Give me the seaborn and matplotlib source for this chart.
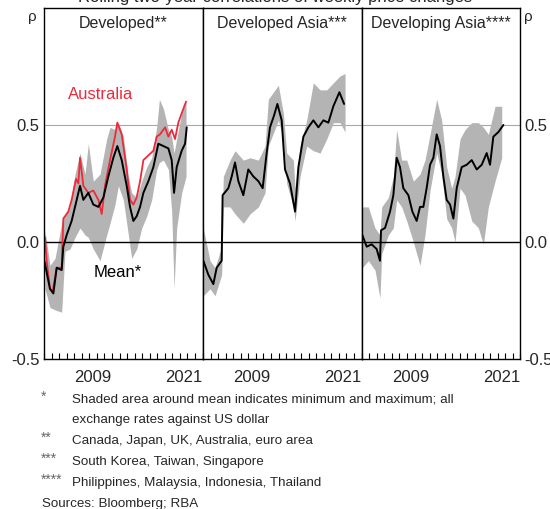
import numpy as np
import matplotlib
matplotlib.use("Agg")
import matplotlib.pyplot as plt
import seaborn as sns

sns.set_style("white")
plt.rcParams["font.family"] = ["Liberation Sans", "DejaVu Sans"]

# Developed (panel 1)
dev_mean_yr = [2003.04, 2003.79, 2004.24, 2004.68, 2005.34, 2005.56, 2006.0, 2006.66, 2007.33, 2007.77,
               2008.21, 2008.87, 2009.53, 2010.2, 2010.86, 2011.52, 2012.18, 2012.71, 2013.29, 2013.95,
               2014.39, 2014.83, 2015.27, 2015.72, 2016.16, 2016.82, 2017.48, 2018.14, 2018.81, 2019.47,
               2019.91, 2020.22, 2020.57, 2021.23, 2021.68, 2021.9]
dev_mean = [-0.08, -0.2, -0.22, -0.11, -0.12, -0.02, 0.03, 0.09, 0.18, 0.24,
            0.18, 0.21, 0.16, 0.15, 0.19, 0.28, 0.36, 0.41, 0.35, 0.24,
            0.15, 0.09, 0.11, 0.15, 0.21, 0.26, 0.32, 0.42, 0.41, 0.40,
            0.35, 0.21, 0.32, 0.39, 0.42, 0.49]

aus_yr = [2003.13, 2003.35, 2003.79, 2004.15, 2004.68, 2005.34, 2005.56, 2006.22, 2006.66, 2007.24,
          2007.55, 2007.77, 2008.21, 2008.87, 2009.53, 2010.2, 2010.64, 2011.08, 2011.74, 2012.4,
          2012.71, 2013.29, 2013.95, 2014.39, 2014.83, 2015.27, 2015.72, 2016.16, 2016.82, 2017.48,
          2017.92, 2018.36, 2019.03, 2019.47, 2019.91, 2020.35, 2020.79, 2021.23, 2021.81]
aus = [0.02, -0.08, -0.2, -0.21, -0.11, -0.11, 0.1, 0.13, 0.18, 0.27,
       0.25, 0.36, 0.24, 0.21, 0.22, 0.18, 0.12, 0.24, 0.35, 0.45,
       0.51, 0.46, 0.31, 0.18, 0.16, 0.19, 0.26, 0.35, 0.37, 0.39,
       0.45, 0.46, 0.49, 0.45, 0.48, 0.44, 0.51, 0.55, 0.6]

dev_band_yr = [2003.13, 2003.79, 2004.46, 2005.34, 2005.78, 2006.44, 2007.11, 2007.77, 2008.43, 2008.87,
               2009.53, 2010.42, 2011.3, 2011.74, 2012.4, 2012.85, 2013.51, 2014.17, 2014.61, 2015.27,
               2015.94, 2016.6, 2017.26, 2017.92, 2018.28, 2018.81, 2019.47, 2019.91, 2020.22, 2020.57,
               2021.23, 2021.81]
dev_lo = [-0.2, -0.28, -0.29, -0.3, -0.04, -0.03, 0.02, 0.06, 0.03, 0.02,
          -0.03, -0.08, 0.03, 0.08, 0.16, 0.24, 0.18, 0.03, -0.07, -0.03,
          0.06, 0.11, 0.18, 0.31, 0.34, 0.35, 0.31, 0.13, -0.2, 0.06,
          0.21, 0.28]
dev_hi = [0.05, -0.1, -0.07, 0.08, 0.12, 0.15, 0.29, 0.38, 0.29, 0.42,
          0.26, 0.29, 0.44, 0.49, 0.48, 0.51, 0.45, 0.28, 0.21, 0.19,
          0.26, 0.32, 0.36, 0.49, 0.61, 0.57, 0.48, 0.45, 0.38, 0.44,
          0.55, 0.6]

# Developed Asia (panel 2)
dva_mean_yr = [2003.04, 2003.71, 2004.37, 2004.81, 2005.47, 2005.6, 2006.36, 2006.8, 2007.24, 2007.68,
               2008.34, 2009.0, 2009.67, 2010.33, 2010.9, 2011.43, 2011.87, 2012.4, 2012.85, 2013.42,
               2013.86, 2014.52, 2015.19, 2015.63, 2016.29, 2016.95, 2017.61, 2018.28, 2018.94, 2019.6,
               2020.26, 2021.06, 2021.68]
dva_mean = [-0.08, -0.14, -0.18, -0.11, -0.08, 0.2, 0.23, 0.28, 0.34, 0.26,
            0.2, 0.31, 0.28, 0.26, 0.23, 0.38, 0.49, 0.54, 0.59, 0.52,
            0.31, 0.25, 0.13, 0.32, 0.45, 0.49, 0.52, 0.49, 0.52, 0.51,
            0.58, 0.64, 0.59]
dva_band_yr = [2003.04, 2003.93, 2004.59, 2005.47, 2005.69, 2006.58, 2007.24, 2008.34, 2009.23, 2010.33,
               2011.21, 2011.65, 2012.98, 2013.64, 2014.08, 2014.96, 2015.19, 2015.85, 2016.73, 2017.61,
               2018.5, 2019.38, 2020.26, 2021.15, 2021.81]
dva_lo = [-0.23, -0.2, -0.23, -0.14, 0.15, 0.15, 0.12, 0.08, 0.12, 0.15,
          0.21, 0.41, 0.52, 0.44, 0.25, 0.15, 0.09, 0.28, 0.41, 0.39,
          0.38, 0.44, 0.51, 0.51, 0.47]
dva_hi = [0.06, -0.08, -0.11, -0.02, 0.28, 0.35, 0.39, 0.35, 0.36, 0.35,
          0.41, 0.61, 0.67, 0.55, 0.38, 0.35, 0.23, 0.41, 0.52, 0.68,
          0.65, 0.65, 0.68, 0.71, 0.72]

# Developing Asia (panel 3)
dga_mean_yr = [2003.08, 2003.66, 2004.32, 2004.98, 2005.42, 2005.56, 2006.09, 2006.75, 2007.19, 2007.63,
               2008.07, 2008.51, 2009.18, 2009.71, 2010.28, 2010.72, 2011.16, 2011.6, 2012.05, 2012.49,
               2012.93, 2013.37, 2013.81, 2014.25, 2014.7, 2015.14, 2015.58, 2016.24, 2016.9, 2017.57,
               2018.23, 2018.89, 2019.55, 2019.99, 2020.43, 2021.1, 2021.76]
dga_mean = [0.03, -0.02, -0.01, -0.03, -0.08, 0.05, 0.06, 0.13, 0.2, 0.36,
            0.32, 0.23, 0.2, 0.13, 0.09, 0.15, 0.15, 0.23, 0.33, 0.36,
            0.46, 0.41, 0.28, 0.18, 0.16, 0.1, 0.23, 0.32, 0.33, 0.35,
            0.31, 0.33, 0.38, 0.33, 0.45, 0.47, 0.5]
dga_band_yr = [2003.08, 2003.88, 2004.76, 2005.42, 2005.65, 2006.53, 2007.19, 2007.63, 2008.29, 2008.96,
               2009.84, 2010.72, 2011.38, 2012.05, 2012.93, 2013.59, 2014.25, 2014.92, 2015.36, 2016.02,
               2016.68, 2017.57, 2018.45, 2019.11, 2019.77, 2020.66, 2021.54]
dga_lo = [-0.11, -0.08, -0.12, -0.24, -0.05, 0.03, 0.06, 0.18, 0.15, 0.09,
          0.0, -0.1, 0.03, 0.22, 0.38, 0.29, 0.1, 0.06, 0.0, 0.23,
          0.2, 0.09, 0.06, -0.01, 0.15, 0.26, 0.36]
dga_hi = [0.15, 0.15, 0.06, 0.03, 0.15, 0.19, 0.28, 0.48, 0.35, 0.35,
          0.26, 0.29, 0.35, 0.46, 0.61, 0.52, 0.32, 0.23, 0.28, 0.44,
          0.48, 0.51, 0.51, 0.49, 0.46, 0.58, 0.58]

titles = ["Developed**", "Developed Asia***", "Developing Asia****"]
label_years = [2009, 2021]

panels = [
    (dev_band_yr, dev_lo, dev_hi, dev_mean_yr, dev_mean),
    (dva_band_yr, dva_lo, dva_hi, dva_mean_yr, dva_mean),
    (dga_band_yr, dga_lo, dga_hi, dga_mean_yr, dga_mean),
]

W, H = 550, 509
fig = plt.figure(figsize=(5.5, 5.09), dpi=100)
lefts = [44, 203, 361.7]
pw = 158.6
axes = []
for i, left in enumerate(lefts):
    ax = fig.add_axes([left / W, 1 - 359 / H, pw / W, (359 - 8) / H])
    axes.append(ax)
    band_yr, lo, hi, m_yr, m = panels[i]
    ax.fill_between(band_yr, lo, hi, color="#b4b4b4", lw=0)
    ax.axhline(0.5, color="#a8a8a8", lw=0.8, zorder=0)
    ax.axhline(0.0, color="black", lw=1.0, zorder=1)
    if i == 0:
        sns.lineplot(x=aus_yr, y=aus, ax=ax, color="#ee2a3a", lw=1.3)
    sns.lineplot(x=m_yr, y=m, ax=ax, color="black", lw=1.4)
    ax.set_xlim(2003, 2024)
    ax.set_ylim(-0.5, 1.0)
    ax.set_xticks([y + 0.5 for y in label_years])
    ax.set_xticklabels([str(y) for y in label_years])
    ax.set_xticks(np.arange(2003, 2025), minor=True)
    ax.tick_params(axis="x", which="major", bottom=True, length=0, labelsize=12, pad=8)
    ax.tick_params(axis="x", which="minor", bottom=True, direction="in", length=4, width=0.8, color="black")
    ax.set_yticks([-0.5, 0.0, 0.5])
    ax.set_yticklabels(["-0.5", "0.0", "0.5"])
    ax.tick_params(axis="y", length=0, labelsize=12, pad=3)
    if i == 0:
        ax.tick_params(axis="y", labelleft=True, labelright=False)
    elif i == 2:
        ax.tick_params(axis="y", labelleft=False, labelright=True)
    else:
        ax.tick_params(axis="y", labelleft=False, labelright=False)
    for s in ax.spines.values():
        s.set_color("black")
        s.set_linewidth(1.0)
    ax.set_xlabel("")
    ax.set_ylabel("")
    ax.text(0.5, 0.955, titles[i], transform=ax.transAxes, ha="center", va="center", fontsize=11.5)

axes[0].text(2010.5, 0.63, "Australia", color="#ee2a3a", ha="center", va="center", fontsize=12)
axes[0].text(2012.8, -0.13, "Mean*", color="black", ha="center", va="center", fontsize=12)

fig.text(0.5, 1 + 3 / H, "Rolling two-year correlations of weekly price changes",
         ha="center", va="center", fontsize=12)
fig.text(32 / W, 1 - 17 / H, "ρ", ha="center", va="center", fontsize=11)
fig.text(528 / W, 1 - 17 / H, "ρ", ha="center", va="center", fontsize=11)

notes = [
    (400, "*", "Shaded area around mean indicates minimum and maximum; all"),
    (420, "", "exchange rates against US dollar"),
    (441, "**", "Canada, Japan, UK, Australia, euro area"),
    (462, "***", "South Korea, Taiwan, Singapore"),
    (483, "****", "Philippines, Malaysia, Indonesia, Thailand"),
]
for y, star, txt in notes:
    if star:
        fig.text(41 / W, 1 - (y - 3) / H, star, ha="left", va="center", fontsize=10, color="#666666")
    fig.text(72 / W, 1 - y / H, txt, ha="left", va="center", fontsize=9.6)
fig.text(42 / W, 1 - 504 / H, "Sources: Bloomberg; RBA", ha="left", va="center", fontsize=9.6)

fig.savefig("out.png", dpi=100)
